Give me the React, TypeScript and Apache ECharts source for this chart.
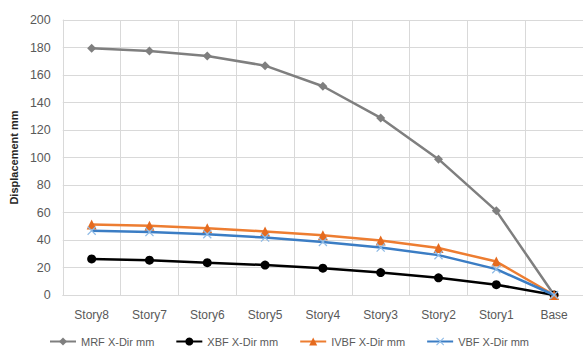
import React, { useEffect, useRef } from "react";
import * as echarts from "echarts";

const categories = ["Story8", "Story7", "Story6", "Story5", "Story4", "Story3", "Story2", "Story1", "Base"];
const mrf = [179.5, 177.5, 173.8, 166.8, 151.8, 128.8, 98.8, 61.2, 0];
const xbf = [26.2, 25.3, 23.5, 21.8, 19.5, 16.3, 12.5, 7.5, 0];
const ivbf = [51.2, 50.3, 48.5, 46.2, 43.5, 39.6, 34.2, 24.3, 0];
const vbf = [46.8, 45.8, 44.2, 41.8, 38.6, 34.5, 29.0, 18.8, 0];
const seriesNames = ["MRF X-Dir mm", "XBF X-Dir mm", "IVBF X-Dir mm", "VBF X-Dir mm"];
const yTicks = { min: 0, max: 200, interval: 20 };

const FONT = "Liberation Sans";
const crossPath =
  "path://M0,1L1,0L5,4L9,0L10,1L6,5L10,9L9,10L5,6L1,10L0,9L4,5Z";

export default function App() {
  const ref = useRef<HTMLDivElement>(null);
  useEffect(() => {
    if (!ref.current) return;
    const chart = echarts.init(ref.current, undefined, { renderer: "svg" });
    chart.setOption({
      animation: false,
      backgroundColor: "#ffffff",
      textStyle: { fontFamily: FONT },
      grid: { left: 62, right: -4, top: 20, bottom: 66, containLabel: false },
      legend: {
        bottom: 9,
        left: 44,
        itemWidth: 26,
        itemHeight: 10,
        itemGap: 21,
        textStyle: { color: "#595959", fontSize: 11, fontFamily: FONT },
        data: seriesNames,
      },
      xAxis: {
        type: "category",
        data: categories,
        boundaryGap: true,
        axisLine: { show: true, lineStyle: { color: "#d9d9d9", width: 1 } },
        axisTick: { show: false },
        axisLabel: { color: "#595959", fontSize: 12, margin: 14, interval: 0, fontFamily: FONT },
        splitLine: { show: true, interval: 0, lineStyle: { color: "#d9d9d9", width: 1 } },
      },
      yAxis: {
        type: "value",
        min: yTicks.min,
        max: yTicks.max,
        interval: yTicks.interval,
        name: "Displacement mm",
        nameLocation: "middle",
        nameGap: 38,
        nameTextStyle: { color: "#262626", fontSize: 11, fontWeight: "bold", fontFamily: FONT },
        axisLine: { show: true, lineStyle: { color: "#d9d9d9" } },
        axisTick: { show: false },
        axisLabel: { color: "#595959", fontSize: 12.5, margin: 12, fontFamily: FONT },
        splitLine: { show: true, lineStyle: { color: "#d9d9d9", width: 1 } },
      },
      series: [
        {
          name: seriesNames[0],
          type: "line",
          data: mrf,
          symbol: "diamond",
          symbolSize: 9,
          color: "#7f7f7f",
          lineStyle: { color: "#7f7f7f", width: 2.5 },
          itemStyle: { color: "#7f7f7f" },
          z: 2,
        },
        {
          name: seriesNames[1],
          type: "line",
          data: xbf,
          symbol: "circle",
          symbolSize: 9,
          color: "#000000",
          lineStyle: { color: "#000000", width: 2.5 },
          itemStyle: { color: "#000000" },
          z: 3,
        },
        {
          name: seriesNames[2],
          type: "line",
          data: ivbf,
          symbol: "triangle",
          symbolSize: 10,
          color: "#ed7d31",
          lineStyle: { color: "#ed7d31", width: 2.5 },
          itemStyle: { color: "#e56b1f" },
          z: 4,
        },
        {
          name: seriesNames[3],
          type: "line",
          data: vbf,
          symbol: crossPath,
          symbolSize: 9,
          color: "#3b7dc4",
          lineStyle: { color: "#3b7dc4", width: 2.5 },
          itemStyle: { color: "#8fbbe6" },
          z: 5,
        },
      ],
    });
    return () => chart.dispose();
  }, []);
  return (
    <div
      ref={ref}
      style={{ position: "fixed", left: 0, top: 0, width: 583, height: 361, background: "#fff" }}
    />
  );
}
